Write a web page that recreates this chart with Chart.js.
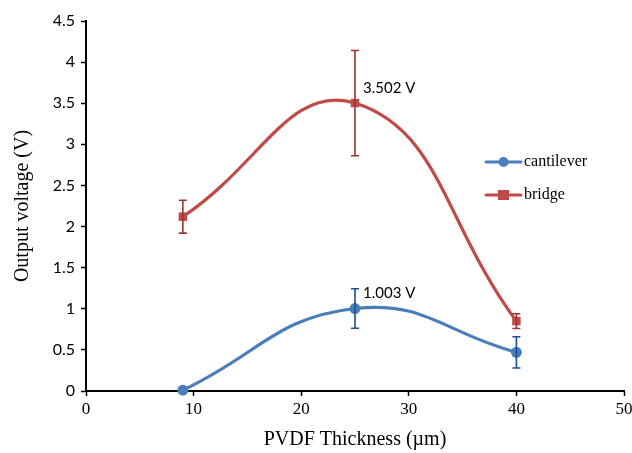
<!DOCTYPE html>
<html><head><meta charset="utf-8">
<script src="https://cdn.jsdelivr.net/npm/chart.js@4/dist/chart.umd.min.js"></script>
<style>html,body{margin:0;padding:0;background:#fff}</style></head>
<body><canvas id="c" width="632" height="453"></canvas>
<script>
const thickness = [9, 25, 40];
const cantilever = [0.01, 1.003, 0.47];
const cantileverErr = [0, 0.24, 0.19];
const cantileverLabels = ['', '1.003 V', ''];
const bridge = [2.12, 3.502, 0.85];
const bridgeErr = [0.2, 0.64, 0.09];
const bridgeLabels = ['', '3.502 V', ''];
const xTicks = [0, 10, 20, 30, 40, 50];
const yTicks = [0, 0.5, 1, 1.5, 2, 2.5, 3, 3.5, 4, 4.5];

const BLUE = '#4a7ebb', RED = '#be4b48';
const BLUE_ERR = '#1f4e8c', RED_ERR = '#9b3432';
const SERIF = '"Liberation Serif", "Times New Roman", serif';
const SANS = 'Lato, "Open Sans", sans-serif';

const pts = (xs, ys) => xs.map((x, i) => ({x: x, y: ys[i]}));

const extras = {
  id: 'extras',
  afterDatasetsDraw(chart) {
    const ctx = chart.ctx, xs = chart.scales.x, ys = chart.scales.y;
    const sets = [
      {v: cantilever, e: cantileverErr, l: cantileverLabels, c: BLUE_ERR},
      {v: bridge, e: bridgeErr, l: bridgeLabels, c: RED_ERR}
    ];
    ctx.save();
    sets.forEach(s => {
      thickness.forEach((t, i) => {
        if (!s.e[i]) return;
        const px = xs.getPixelForValue(t);
        const top = ys.getPixelForValue(s.v[i] + s.e[i]);
        const bot = ys.getPixelForValue(s.v[i] - s.e[i]);
        ctx.strokeStyle = s.c; ctx.lineWidth = 1.6;
        ctx.beginPath();
        ctx.moveTo(px, top); ctx.lineTo(px, bot);
        ctx.moveTo(px - 4, top); ctx.lineTo(px + 4, top);
        ctx.moveTo(px - 4, bot); ctx.lineTo(px + 4, bot);
        ctx.stroke();
      });
      thickness.forEach((t, i) => {
        if (!s.l[i]) return;
        const px = xs.getPixelForValue(t);
        const py = ys.getPixelForValue(s.v[i]);
        ctx.fillStyle = '#000'; ctx.font = '15px ' + SANS;
        ctx.textAlign = 'left'; ctx.textBaseline = 'middle';
        ctx.fillText(s.l[i], px + 8, py - 15);
      });
    });
    // legend
    const items = [
      {t: 'cantilever', c: BLUE, shape: 'circle', y: 162},
      {t: 'bridge', c: RED, shape: 'square', y: 195}
    ];
    items.forEach(it => {
      ctx.strokeStyle = it.c; ctx.lineWidth = 3; ctx.lineCap = 'round';
      ctx.beginPath(); ctx.moveTo(486, it.y); ctx.lineTo(521, it.y); ctx.stroke();
      ctx.fillStyle = it.c;
      if (it.shape === 'circle') { ctx.beginPath(); ctx.arc(503.5, it.y, 5, 0, Math.PI * 2); ctx.fill(); }
      else ctx.fillRect(498, it.y - 5, 11, 10);
      ctx.fillStyle = '#000'; ctx.font = '16px ' + SERIF;
      ctx.textAlign = 'left'; ctx.textBaseline = 'middle';
      ctx.fillText(it.t, 524, it.y);
    });
    ctx.restore();
  }
};

new Chart(document.getElementById('c'), {
  type: 'line',
  data: {
    datasets: [
      {label: 'cantilever', data: pts(thickness, cantilever), borderColor: BLUE, backgroundColor: BLUE,
       borderWidth: 3.2, tension: 0.45, pointStyle: 'circle', pointRadius: 5.5, pointBorderWidth: 0, clip: false},
      {label: 'bridge', data: pts(thickness, bridge), borderColor: RED, backgroundColor: RED,
       borderWidth: 3.2, tension: 0.45, pointStyle: 'rect', pointRadius: 6, pointBorderWidth: 0, clip: false}
    ]
  },
  options: {
    responsive: false, animation: false,
    layout: {padding: {top: 21, right: 0, left: 0, bottom: 0}},
    plugins: {legend: {display: false}, tooltip: {enabled: false}},
    scales: {
      x: {
        type: 'linear', min: 0, max: 50,
        afterBuildTicks: s => { s.ticks = xTicks.map(v => ({value: v})); },
        afterFit: s => { s.height = 62; s.paddingRight = 8; },
        grid: {drawOnChartArea: false, tickLength: 5, tickColor: '#000', tickWidth: 1.5},
        border: {color: '#000', width: 2},
        ticks: {color: '#000', font: {family: SERIF, size: 17}, padding: 3, maxRotation: 0},
        title: {display: true, text: 'PVDF Thickness (\u00b5m)', color: '#000',
                font: {family: SERIF, size: 20}, padding: {top: 2, bottom: 1}}
      },
      y: {
        type: 'linear', min: 0, max: 4.5,
        afterBuildTicks: s => { s.ticks = yTicks.map(v => ({value: v})); },
        afterFit: s => { s.width = 86; },
        grid: {drawOnChartArea: false, tickLength: 5, tickColor: '#000', tickWidth: 1.5},
        border: {color: '#000', width: 2},
        ticks: {color: '#000', font: {family: SANS, size: 16}, padding: 6, callback: v => String(v)},
        title: {display: true, text: 'Output voltage (V)', color: '#000',
                font: {family: SERIF, size: 20}, padding: {top: 11, bottom: 0}}
      }
    }
  },
  plugins: [extras]
});
</script></body></html>
